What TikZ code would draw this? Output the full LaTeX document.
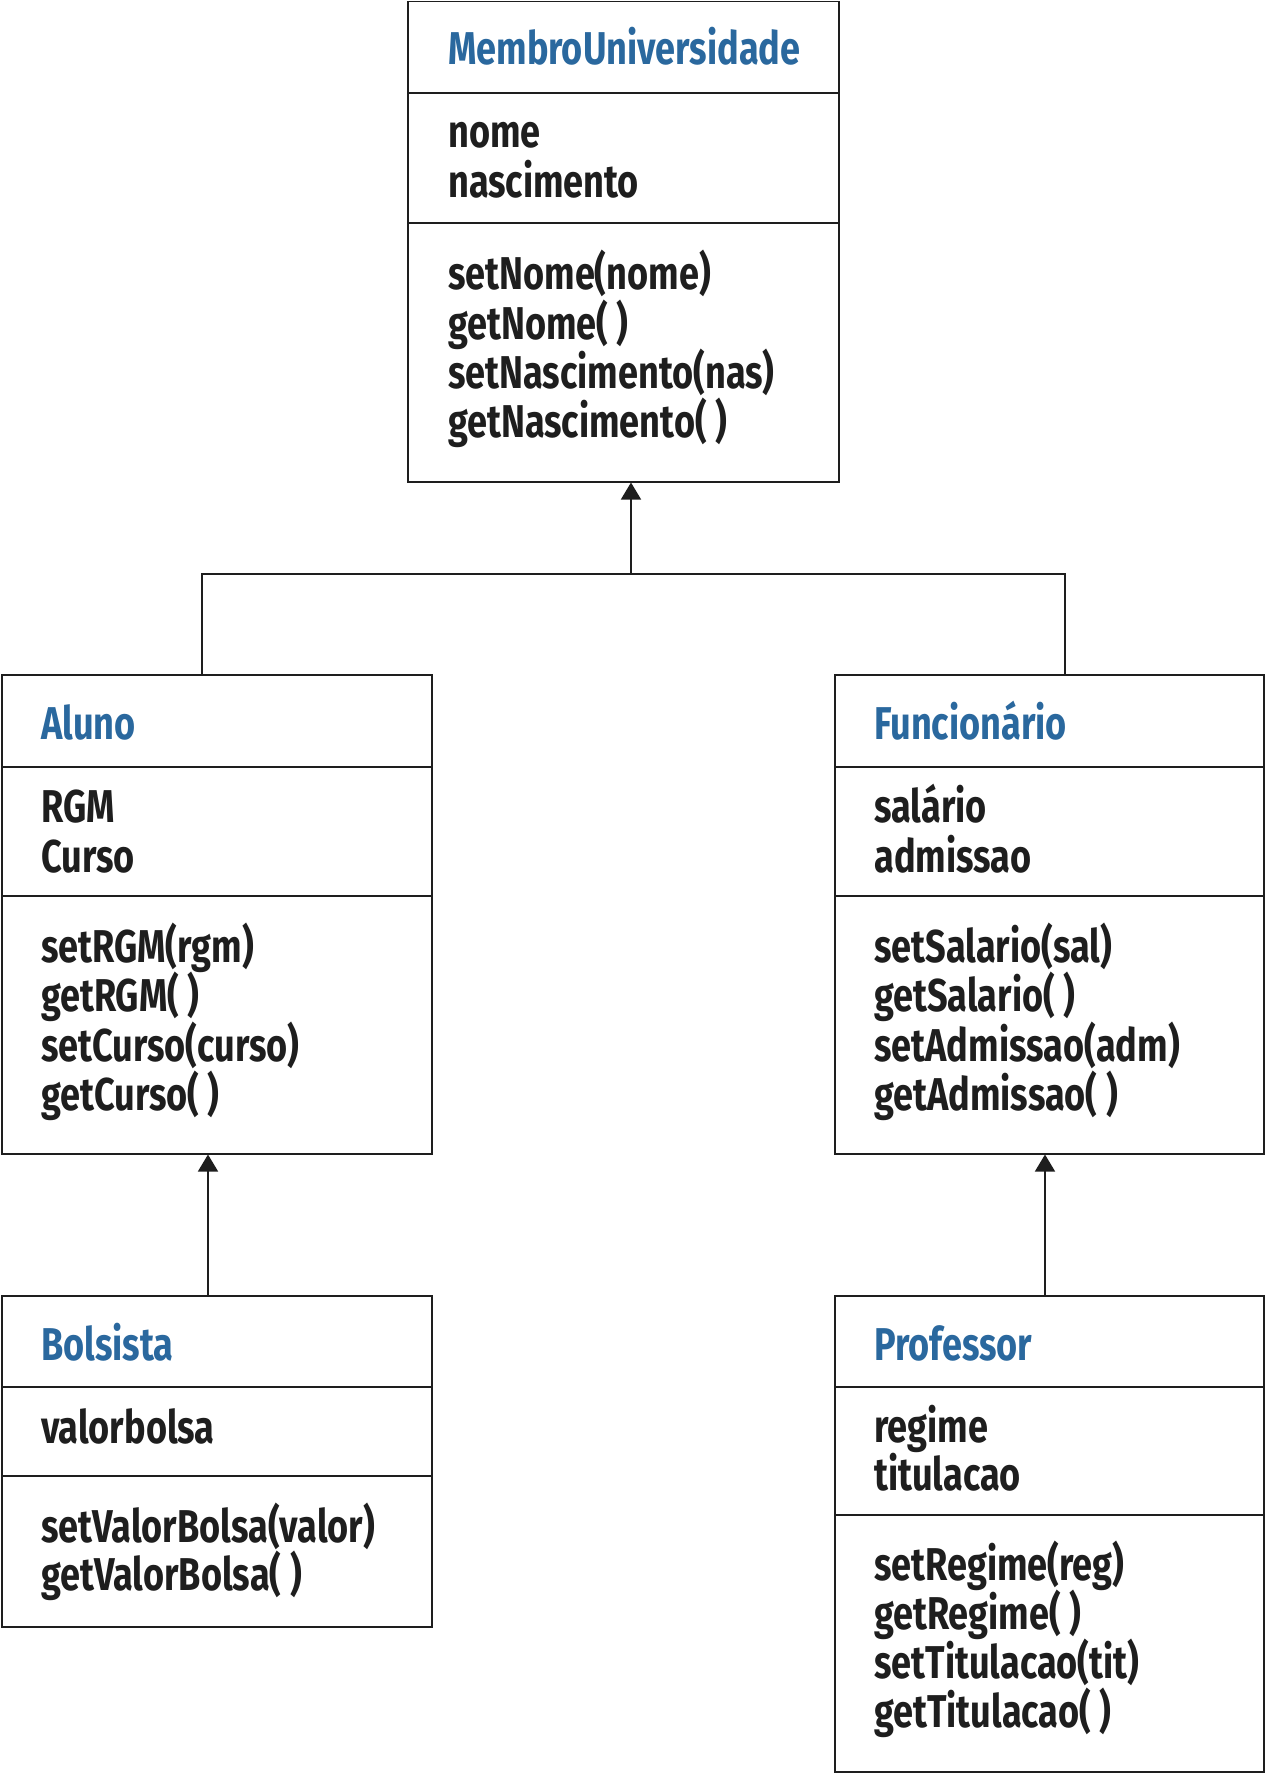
\documentclass[tikz,border=0pt]{standalone}
\usepackage{fontspec}
\setmainfont{Fira Sans}[FakeStretch=0.785]
\usetikzlibrary{arrows.meta}
\definecolor{titleblue}{RGB}{42,104,158}
\definecolor{ink}{RGB}{30,30,30}

\begin{document}
\begin{tikzpicture}[x=1pt,y=-1pt,
	box/.style={draw=ink,line width=1.5pt,anchor=north west,inner sep=0pt},
	rule/.style={draw=ink,line width=1.5pt},
	txt/.style={anchor=base west,inner sep=0pt,text=ink,font=\fontsize{46}{50}\selectfont\bfseries},
	inh/.style={draw=ink,line width=1.5pt,-{Triangle[width=20pt,length=17pt]}}]
	\useasboundingbox (0,0) rectangle (1265,1776);

	% classes
	\node[box,minimum width=431pt,minimum height=480pt] (membro) at (407,1) {};
	\node[box,minimum width=430pt,minimum height=479pt] (aluno) at (1,674) {};
	\node[box,minimum width=429pt,minimum height=479pt] (func) at (834,674) {};
	\node[box,minimum width=430pt,minimum height=331pt] (bolsista) at (1,1295) {};
	\node[box,minimum width=429pt,minimum height=476pt] (prof) at (834,1295) {};

	% compartments
	\foreach \b/\d in {membro/92,membro/222,aluno/93,aluno/222,func/93,func/222,bolsista/92,bolsista/181,prof/92,prof/220}
		\draw[rule] ([yshift=-\d pt]\b.north west) -- ([yshift=-\d pt]\b.north east);

	% MembroUniversidade
	\node[txt,text=titleblue] (membro-t) at (448,65) {MembroUniversidade};
	\foreach \t [count=\i from 0] in {nome,nascimento}
		\node[txt] (membro-a\i) at (448,148+50*\i) {\t};
	\foreach \t [count=\i from 0] in {setNome(nome),getNome( ),setNascimento(nas),getNascimento( )}
		\node[txt] (membro-m\i) at (448,290+49.3*\i) {\t};

	% Aluno
	\node[txt,text=titleblue] (aluno-t) at (41,739) {Aluno};
	\foreach \t [count=\i from 0] in {RGM,Curso}
		\node[txt] (aluno-a\i) at (41,822+50*\i) {\t};
	\foreach \t [count=\i from 0] in {setRGM(rgm),getRGM( ),setCurso(curso),getCurso( )}
		\node[txt] (aluno-m\i) at (41,962+49.5*\i) {\t};

	% Funcionario
	\node[txt,text=titleblue] (func-t) at (874,739) {Funcionário};
	\foreach \t [count=\i from 0] in {salário,admissao}
		\node[txt] (func-a\i) at (874,822+50*\i) {\t};
	\foreach \t [count=\i from 0] in {setSalario(sal),getSalario( ),setAdmissao(adm),getAdmissao( )}
		\node[txt] (func-m\i) at (874,962+49.5*\i) {\t};

	% Bolsista
	\node[txt,text=titleblue] (bolsista-t) at (41,1360) {Bolsista};
	\node[txt] (bolsista-a0) at (41,1443) {valorbolsa};
	\foreach \t [count=\i from 0] in {setValorBolsa(valor),getValorBolsa( )}
		\node[txt] (bolsista-m\i) at (41,1542+48*\i) {\t};

	% Professor
	\node[txt,text=titleblue] (prof-t) at (874,1360) {Professor};
	\foreach \t [count=\i from 0] in {regime,titulacao}
		\node[txt] (prof-a\i) at (874,1442+48*\i) {\t};
	\foreach \t [count=\i from 0] in {setRegime(reg),getRegime( ),setTitulacao(tit),getTitulacao( )}
		\node[txt] (prof-m\i) at (874,1580+49*\i) {\t};

	% inheritance
	\coordinate (lt) at (202,574);
	\coordinate (mid) at (631,574);
	\coordinate (rt) at (1065,574);
	\draw[rule] (lt |- aluno.north) -- (lt) -- (rt) -- (rt |- func.north);
	\draw[inh] (mid) -- (mid |- membro.south);
	\path (bolsista.north west) ++(207,0) coordinate (bs);
	\draw[inh] (bs) -- (bs |- aluno.south);
	\path (prof.north west) ++(211,0) coordinate (pf);
	\draw[inh] (pf) -- (pf |- func.south);

\end{tikzpicture}
\end{document}
